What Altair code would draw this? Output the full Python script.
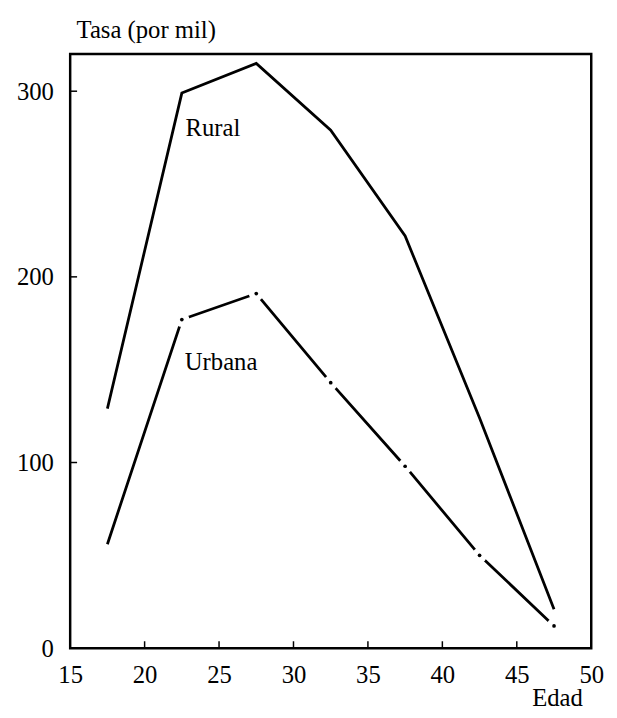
import altair as alt
import pandas as pd

# ---- data ----
edad = [17.5, 22.5, 27.5, 32.5, 37.5, 42.5, 47.5]
rural = [129, 299, 315, 279, 222, 124, 21]
urbana = [56, 177, 191, 143, 98, 50, 12]
x_ticks = [15, 20, 25, 30, 35, 40, 45, 50]
y_ticks = [0, 100, 200, 300]
label_text = ["Rural", "Urbana"]
label_x = [22.75, 22.7]
label_y = [276, 150]

FONT = "Liberation Serif, Times New Roman, Times, serif"
FS = 25

df = pd.DataFrame({
    "edad": edad * 2,
    "tasa": rural + urbana,
    "zona": ["Rural"] * len(edad) + ["Urbana"] * len(edad),
})
labels = pd.DataFrame({"edad": label_x, "tasa": label_y, "txt": label_text})
xt = pd.DataFrame({"edad": x_ticks[1:-1]})
yt = pd.DataFrame({"tasa": y_ticks[1:]})

x_scale = alt.Scale(domain=[15, 50], nice=False, zero=False)
y_scale = alt.Scale(domain=[0, 320], nice=False)

x_axis = alt.Axis(
    values=x_ticks, title="Edad", grid=False, domain=False, ticks=False,
    labelFont=FONT, labelFontSize=FS, labelColor="black", labelPadding=15,
    labelFlush=False, labelOverlap=False,
    titleFont=FONT, titleFontSize=FS, titleFontWeight="normal", titleColor="black",
    titleAlign="right", titleBaseline="alphabetic", titleX=519, titleY=58,
)
y_axis = alt.Axis(
    values=y_ticks, title="Tasa (por mil)", grid=False, domain=False, ticks=False,
    labelFont=FONT, labelFontSize=FS, labelColor="black", labelPadding=17,
    labelFlush=False, labelOverlap=False,
    titleFont=FONT, titleFontSize=FS, titleFontWeight="normal", titleColor="black",
    titleAngle=0, titleAlign="left", titleBaseline="alphabetic", titleX=6, titleY=-17,
)

X = alt.X("edad:Q", scale=x_scale, axis=x_axis)
Y = alt.Y("tasa:Q", scale=y_scale, axis=y_axis)

base = alt.Chart(df)

rural_line = base.transform_filter(alt.datum.zona == "Rural").mark_line(
    color="black", strokeWidth=2.8
).encode(x=X, y=Y)

urb_line = base.transform_filter(alt.datum.zona == "Urbana").mark_line(
    color="black", strokeWidth=2.8
).encode(x=X, y=Y)

urb_gaps = base.transform_filter(
    (alt.datum.zona == "Urbana") & (alt.datum.edad > 17.5)
).mark_circle(color="white", opacity=1, size=230).encode(x=X, y=Y)

urb_dots = base.transform_filter(
    (alt.datum.zona == "Urbana") & (alt.datum.edad > 17.5)
).mark_circle(color="black", opacity=1, size=14).encode(x=X, y=Y)

text = alt.Chart(labels).mark_text(
    font=FONT, fontSize=FS, color="black", align="left", baseline="alphabetic"
).encode(x=X, y=Y, text="txt:N")

xtick = alt.Chart(xt).mark_rule(color="black", strokeWidth=1.5).encode(
    x=X, y=alt.value(602), y2=alt.value(595)
)
ytick = alt.Chart(yt).mark_rule(color="black", strokeWidth=1.5).encode(
    y=Y, x=alt.value(0), x2=alt.value(7)
)

chart = alt.layer(
    rural_line, urb_line, urb_gaps, urb_dots, text, xtick, ytick
).properties(
    width=528, height=602,
    autosize=alt.AutoSizeParams(type="none"),
    padding={"left": 63, "top": 42, "right": 18, "bottom": 60},
    background="white",
).configure_view(
    stroke="black", strokeWidth=2.5
)

chart.save("out.html", embed_options={"renderer": "svg", "actions": False})
